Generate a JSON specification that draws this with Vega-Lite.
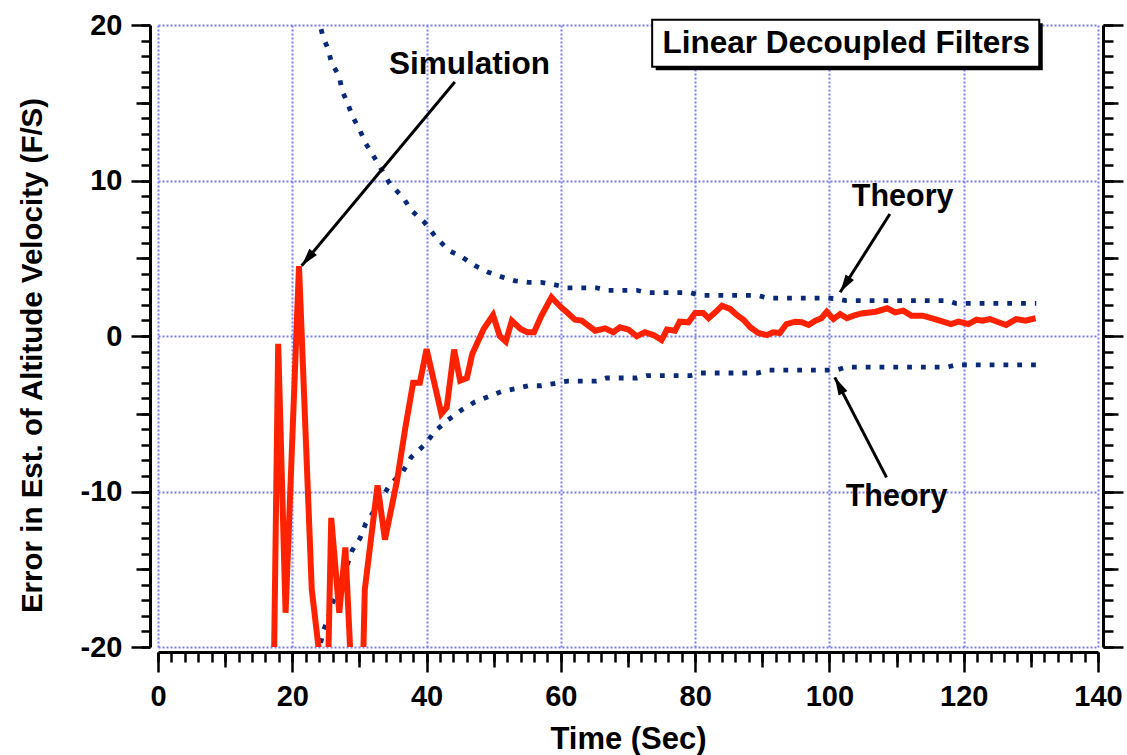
{
  "$schema": "https://vega.github.io/schema/vega-lite/v6.json",
  "width": 940,
  "height": 622,
  "autosize": {"type": "none"},
  "padding": {"left": 158, "top": 25, "right": 29, "bottom": 108},
  "background": "white",
  "config": {
    "view": {"stroke": null},
    "axis": {
      "grid": false,
      "domainColor": "black",
      "tickColor": "black",
      "domainWidth": 3,
      "tickWidth": 2.5,
      "labelFont": "Liberation Sans",
      "labelFontWeight": "bold",
      "labelFontSize": 29,
      "labelColor": "black",
      "titleFont": "Liberation Sans",
      "titleFontWeight": "bold",
      "titleColor": "black",
      "labelFlush": false,
      "labelOverlap": false
    },
    "text": {"font": "Liberation Sans", "fontWeight": "bold", "color": "black"}
  },
  "datasets": {
    "sim": [
      {"t": 17.0, "e": -30}, {"t": 17.9, "e": -0.5}, {"t": 19.0, "e": -17.8}, {"t": 21.0, "e": 4.5},
      {"t": 22.9, "e": -16.3}, {"t": 25.17, "e": -24.7}, {"t": 25.8, "e": -11.7}, {"t": 27.0, "e": -17.8},
      {"t": 27.9, "e": -13.6}, {"t": 29.94, "e": -32.2}, {"t": 30.8, "e": -16.3}, {"t": 32.7, "e": -9.6},
      {"t": 33.8, "e": -13.1}, {"t": 35.6, "e": -9.3}, {"t": 36.8, "e": -6.0}, {"t": 38.0, "e": -3.0},
      {"t": 39.0, "e": -3.0}, {"t": 40.0, "e": -0.84}, {"t": 42.2, "e": -5.0}, {"t": 43.0, "e": -4.6},
      {"t": 44.1, "e": -0.88}, {"t": 45.0, "e": -2.87}, {"t": 46.0, "e": -2.7}, {"t": 46.8, "e": -1.16},
      {"t": 48.5, "e": 0.45}, {"t": 49.9, "e": 1.35}, {"t": 50.9, "e": 0.0}, {"t": 51.8, "e": -0.36},
      {"t": 52.7, "e": 0.98}, {"t": 54.0, "e": 0.45}, {"t": 55.0, "e": 0.24}, {"t": 56.0, "e": 0.24},
      {"t": 57.1, "e": 1.3}, {"t": 58.6, "e": 2.49}, {"t": 59.9, "e": 1.9}, {"t": 60.9, "e": 1.52},
      {"t": 62.1, "e": 1.05}, {"t": 63.1, "e": 0.99}, {"t": 64.1, "e": 0.66}, {"t": 65.1, "e": 0.34},
      {"t": 66.6, "e": 0.49}, {"t": 67.8, "e": 0.24}, {"t": 68.8, "e": 0.56}, {"t": 70.1, "e": 0.41},
      {"t": 71.3, "e": -0.02}, {"t": 72.5, "e": 0.24}, {"t": 73.8, "e": 0.06}, {"t": 75.0, "e": -0.26},
      {"t": 75.8, "e": 0.41}, {"t": 77.0, "e": 0.34}, {"t": 77.7, "e": 0.92}, {"t": 79.0, "e": 0.88},
      {"t": 80.0, "e": 1.48}, {"t": 81.2, "e": 1.48}, {"t": 82.0, "e": 1.14}, {"t": 83.0, "e": 1.52},
      {"t": 84.0, "e": 1.95}, {"t": 85.2, "e": 1.74}, {"t": 86.2, "e": 1.35}, {"t": 87.2, "e": 1.05},
      {"t": 88.2, "e": 0.56}, {"t": 89.4, "e": 0.19}, {"t": 90.7, "e": 0.06}, {"t": 91.6, "e": 0.24},
      {"t": 92.6, "e": 0.19}, {"t": 93.6, "e": 0.77}, {"t": 94.9, "e": 0.92}, {"t": 95.9, "e": 0.88},
      {"t": 96.9, "e": 0.71}, {"t": 97.9, "e": 0.98}, {"t": 98.8, "e": 1.14}, {"t": 99.6, "e": 1.56},
      {"t": 100.6, "e": 1.09}, {"t": 101.6, "e": 1.41}, {"t": 102.6, "e": 1.14}, {"t": 103.6, "e": 1.31},
      {"t": 104.8, "e": 1.45}, {"t": 106.9, "e": 1.56}, {"t": 108.6, "e": 1.78}, {"t": 109.8, "e": 1.52},
      {"t": 111.0, "e": 1.63}, {"t": 112.2, "e": 1.31}, {"t": 113.9, "e": 1.31}, {"t": 115.7, "e": 1.09},
      {"t": 118.1, "e": 0.77}, {"t": 119.2, "e": 0.92}, {"t": 120.7, "e": 0.77}, {"t": 121.9, "e": 1.05},
      {"t": 122.8, "e": 0.98}, {"t": 123.9, "e": 1.09}, {"t": 126.3, "e": 0.71}, {"t": 127.8, "e": 1.09},
      {"t": 129.2, "e": 0.98}, {"t": 130.7, "e": 1.14}
    ],
    "theory": [
      {"b": "upper", "t": 23.8, "e": 20.6}, {"b": "upper", "t": 24.6, "e": 19.2}, {"b": "upper", "t": 25.4, "e": 18.4},
      {"b": "upper", "t": 25.8, "e": 17.6}, {"b": "upper", "t": 27.0, "e": 16.7}, {"b": "upper", "t": 27.4, "e": 15.8},
      {"b": "upper", "t": 28.2, "e": 15.0}, {"b": "upper", "t": 29.0, "e": 14.1}, {"b": "upper", "t": 30.1, "e": 13.2},
      {"b": "upper", "t": 30.9, "e": 12.4}, {"b": "upper", "t": 32.2, "e": 11.5}, {"b": "upper", "t": 33.3, "e": 10.7},
      {"b": "upper", "t": 34.5, "e": 9.8}, {"b": "upper", "t": 36.5, "e": 8.9}, {"b": "upper", "t": 37.7, "e": 8.1},
      {"b": "upper", "t": 39.7, "e": 7.3}, {"b": "upper", "t": 41.3, "e": 6.4}, {"b": "upper", "t": 43.3, "e": 5.5},
      {"b": "upper", "t": 45.2, "e": 5.1}, {"b": "upper", "t": 47.3, "e": 4.5}, {"b": "upper", "t": 49.2, "e": 4.1},
      {"b": "upper", "t": 51.2, "e": 3.8}, {"b": "upper", "t": 53.2, "e": 3.55}, {"b": "upper", "t": 55.2, "e": 3.45},
      {"b": "upper", "t": 57.1, "e": 3.45}, {"b": "upper", "t": 59.0, "e": 3.3}, {"b": "upper", "t": 61.0, "e": 3.1},
      {"b": "upper", "t": 65.3, "e": 3.1}, {"b": "upper", "t": 66.8, "e": 2.94}, {"b": "upper", "t": 71.3, "e": 2.94},
      {"b": "upper", "t": 72.8, "e": 2.79}, {"b": "upper", "t": 79.3, "e": 2.79}, {"b": "upper", "t": 80.8, "e": 2.61},
      {"b": "upper", "t": 89.3, "e": 2.61}, {"b": "upper", "t": 90.8, "e": 2.44}, {"b": "upper", "t": 99.5, "e": 2.44},
      {"b": "upper", "t": 101.0, "e": 2.4}, {"b": "upper", "t": 102.5, "e": 2.27}, {"b": "upper", "t": 117.5, "e": 2.27},
      {"b": "upper", "t": 118.8, "e": 2.1}, {"b": "upper", "t": 130.8, "e": 2.1},
      {"b": "lower", "t": 23.8, "e": -20.6}, {"b": "lower", "t": 24.6, "e": -19.0}, {"b": "lower", "t": 25.4, "e": -18.1},
      {"b": "lower", "t": 25.8, "e": -17.3}, {"b": "lower", "t": 27.0, "e": -16.4}, {"b": "lower", "t": 27.4, "e": -15.6},
      {"b": "lower", "t": 28.2, "e": -14.7}, {"b": "lower", "t": 28.9, "e": -13.8}, {"b": "lower", "t": 30.1, "e": -13.0},
      {"b": "lower", "t": 30.9, "e": -12.1}, {"b": "lower", "t": 32.1, "e": -11.3}, {"b": "lower", "t": 33.3, "e": -10.4},
      {"b": "lower", "t": 34.5, "e": -9.6}, {"b": "lower", "t": 36.5, "e": -8.7}, {"b": "lower", "t": 37.7, "e": -7.8},
      {"b": "lower", "t": 39.7, "e": -7.0}, {"b": "lower", "t": 41.3, "e": -6.1}, {"b": "lower", "t": 43.2, "e": -5.4},
      {"b": "lower", "t": 45.2, "e": -4.76}, {"b": "lower", "t": 47.2, "e": -4.24}, {"b": "lower", "t": 49.2, "e": -3.9},
      {"b": "lower", "t": 51.2, "e": -3.56}, {"b": "lower", "t": 53.2, "e": -3.39}, {"b": "lower", "t": 55.2, "e": -3.2},
      {"b": "lower", "t": 57.1, "e": -3.2}, {"b": "lower", "t": 59.0, "e": -3.06}, {"b": "lower", "t": 61.0, "e": -2.9},
      {"b": "lower", "t": 65.3, "e": -2.9}, {"b": "lower", "t": 66.8, "e": -2.7}, {"b": "lower", "t": 71.3, "e": -2.7},
      {"b": "lower", "t": 72.8, "e": -2.55}, {"b": "lower", "t": 79.3, "e": -2.55}, {"b": "lower", "t": 80.8, "e": -2.38},
      {"b": "lower", "t": 89.3, "e": -2.38}, {"b": "lower", "t": 90.8, "e": -2.2}, {"b": "lower", "t": 101.0, "e": -2.2},
      {"b": "lower", "t": 102.5, "e": -2.0}, {"b": "lower", "t": 117.5, "e": -2.0}, {"b": "lower", "t": 118.8, "e": -1.86},
      {"b": "lower", "t": 130.8, "e": -1.86}
    ],
    "notes": [
      {"label": "Linear Decoupled Filters", "t": 102.5, "e": 18.18},
      {"label": "Simulation", "t": 46.4, "e": 16.85},
      {"label": "Theory", "t": 110.9, "e": 8.38},
      {"label": "Theory", "t": 110.0, "e": -10.91}
    ],
    "box": [{"t": 73.6, "t2": 131.25, "e": 20.33, "e2": 17.32}],
    "arrows": [
      {"name": "sim", "t": 44.2, "e": 16.33, "t2": 21.4, "e2": 4.52},
      {"name": "upper", "t": 109.0, "e": 7.85, "t2": 101.6, "e2": 2.81},
      {"name": "lower", "t": 108.5, "e": -9.09, "t2": 100.8, "e2": -2.66}
    ]
  },
  "resolve": {"axis": {"x": "independent", "y": "independent"}},
  "layer": [
    {
      "data": {"name": "theory"},
      "mark": {"type": "line", "clip": true, "color": "#0a2a78", "strokeWidth": 4.8, "strokeDash": [4.8, 9.0], "strokeCap": "butt"},
      "encoding": {
        "x": {"field": "t", "type": "quantitative", "scale": {"domain": [0, 140], "nice": false, "zero": false},
          "axis": {"orient": "bottom", "values": [0, 20, 40, 60, 80, 100, 120, 140], "grid": true, "gridColor": "#7a7aff", "gridDash": [2, 2], "gridWidth": 2, "domain": false, "ticks": false, "labels": false, "title": null}},
        "y": {"field": "e", "type": "quantitative", "scale": {"domain": [-20, 20], "nice": false, "zero": false},
          "axis": {"orient": "left", "values": [-20, -10, 0, 10, 20], "grid": true, "gridColor": "#7a7aff", "gridDash": [2, 2], "gridWidth": 2, "domain": false, "ticks": false, "labels": false, "title": null}},
        "detail": {"field": "b"}
      }
    },
    {
      "data": {"name": "box"},
      "mark": {"type": "rect", "fill": "black", "xOffset": 3.5, "x2Offset": 3.5, "yOffset": 3.5, "y2Offset": 3.5},
      "encoding": {
        "x": {"field": "t", "type": "quantitative", "scale": {"domain": [0, 140], "nice": false, "zero": false},
          "axis": {"orient": "bottom", "offset": 5, "values": [10, 30, 50, 70, 90, 110, 130], "tickSize": 15, "labels": false, "domain": false, "title": null}},
        "x2": {"field": "t2"},
        "y": {"field": "e", "type": "quantitative", "scale": {"domain": [-20, 20], "nice": false, "zero": false},
          "axis": {"orient": "left", "offset": 8, "values": [-15, -5, 5, 15], "tickSize": 14, "labels": false, "domain": false, "title": null}},
        "y2": {"field": "e2"}
      }
    },
    {
      "data": {"name": "box"},
      "mark": {"type": "rect", "fill": "white", "stroke": "black", "strokeWidth": 2},
      "encoding": {
        "x": {"field": "t", "type": "quantitative", "scale": {"domain": [0, 140], "nice": false, "zero": false},
          "axis": {"orient": "bottom", "offset": 5, "values": [0, 2, 4, 6, 8, 10, 12, 14, 16, 18, 20, 22, 24, 26, 28, 30, 32, 34, 36, 38, 40, 42, 44, 46, 48, 50, 52, 54, 56, 58, 60, 62, 64, 66, 68, 70, 72, 74, 76, 78, 80, 82, 84, 86, 88, 90, 92, 94, 96, 98, 100, 102, 104, 106, 108, 110, 112, 114, 116, 118, 120, 122, 124, 126, 128, 130, 132, 134, 136, 138, 140], "tickSize": 10, "labels": false, "domain": false, "title": null}},
        "x2": {"field": "t2"},
        "y": {"field": "e", "type": "quantitative", "scale": {"domain": [-20, 20], "nice": false, "zero": false},
          "axis": {"orient": "left", "offset": 8, "values": [-20, -19, -18, -17, -16, -15, -14, -13, -12, -11, -10, -9, -8, -7, -6, -5, -4, -3, -2, -1, 0, 1, 2, 3, 4, 5, 6, 7, 8, 9, 10, 11, 12, 13, 14, 15, 16, 17, 18, 19, 20], "tickSize": 9, "labels": false, "domain": false, "title": null}},
        "y2": {"field": "e2"}
      }
    },
    {
      "data": {"name": "sim"},
      "mark": {"type": "line", "clip": true, "color": "#ff2200", "strokeWidth": 6, "strokeJoin": "miter"},
      "encoding": {
        "x": {"field": "t", "type": "quantitative", "scale": {"domain": [0, 140], "nice": false, "zero": false},
          "axis": {"orient": "bottom", "offset": 5, "values": [0, 20, 40, 60, 80, 100, 120, 140], "tickSize": 20, "labelPadding": 10, "labelExpr": "'' + datum.value", "domain": true, "title": "Time (Sec)", "titleFontSize": 31, "titleBaseline": "alphabetic", "titleY": 96}},
        "y": {"field": "e", "type": "quantitative", "scale": {"domain": [-20, 20], "nice": false, "zero": false},
          "axis": {"orient": "left", "offset": 8, "values": [-20, -10, 0, 10, 20], "tickSize": 19, "labelPadding": 9, "labelExpr": "'' + datum.value", "domain": true, "title": "Error in Est. of Altitude Velocity (F/S)", "titleFontSize": 29.5, "titleBaseline": "alphabetic", "titleX": -109, "titleY": 330}}
      }
    },
    {
      "data": {"name": "notes"},
      "transform": [{"filter": "datum.label === 'Linear Decoupled Filters'"}],
      "mark": {"type": "text", "fontSize": 31.5, "align": "center", "baseline": "alphabetic"},
      "encoding": {
        "x": {"field": "t", "type": "quantitative", "scale": {"domain": [0, 140], "nice": false, "zero": false}, "axis": null},
        "y": {"field": "e", "type": "quantitative", "scale": {"domain": [-20, 20], "nice": false, "zero": false},
          "axis": {"orient": "right", "offset": 5, "values": [-20, -10, 0, 10, 20], "tickSize": 20, "labels": false, "domain": true, "title": null}},
        "text": {"field": "label"}
      }
    },
    {
      "data": {"name": "notes"},
      "transform": [{"filter": "datum.label === 'Simulation'"}],
      "mark": {"type": "text", "fontSize": 31.5, "align": "center", "baseline": "alphabetic"},
      "encoding": {
        "x": {"field": "t", "type": "quantitative", "scale": {"domain": [0, 140], "nice": false, "zero": false}, "axis": null},
        "y": {"field": "e", "type": "quantitative", "scale": {"domain": [-20, 20], "nice": false, "zero": false},
          "axis": {"orient": "right", "offset": 5, "values": [-15, -5, 5, 15], "tickSize": 15, "labels": false, "domain": false, "title": null}},
        "text": {"field": "label"}
      }
    },
    {
      "data": {"name": "notes"},
      "transform": [{"filter": "datum.label === 'Theory'"}],
      "mark": {"type": "text", "fontSize": 30.5, "align": "center", "baseline": "alphabetic"},
      "encoding": {
        "x": {"field": "t", "type": "quantitative", "scale": {"domain": [0, 140], "nice": false, "zero": false}, "axis": null},
        "y": {"field": "e", "type": "quantitative", "scale": {"domain": [-20, 20], "nice": false, "zero": false},
          "axis": {"orient": "right", "offset": 5, "values": [-20, -19, -18, -17, -16, -15, -14, -13, -12, -11, -10, -9, -8, -7, -6, -5, -4, -3, -2, -1, 0, 1, 2, 3, 4, 5, 6, 7, 8, 9, 10, 11, 12, 13, 14, 15, 16, 17, 18, 19, 20], "tickSize": 10, "labels": false, "domain": false, "title": null}},
        "text": {"field": "label"}
      }
    },
    {
      "data": {"name": "arrows"},
      "mark": {"type": "rule", "color": "black", "strokeWidth": 3},
      "encoding": {
        "x": {"field": "t", "type": "quantitative", "scale": {"domain": [0, 140], "nice": false, "zero": false}, "axis": null},
        "y": {"field": "e", "type": "quantitative", "scale": {"domain": [-20, 20], "nice": false, "zero": false}, "axis": null},
        "x2": {"field": "t2"},
        "y2": {"field": "e2"}
      }
    },
    {
      "data": {"name": "arrows"},
      "transform": [{"filter": "datum.name === 'sim'"}],
      "mark": {"type": "point", "shape": "M0,0L-0.55,2L0.55,2Z", "size": 320, "angle": 219.8, "filled": true, "color": "black", "opacity": 1},
      "encoding": {
        "x": {"field": "t2", "type": "quantitative", "scale": {"domain": [0, 140], "nice": false, "zero": false}, "axis": null},
        "y": {"field": "e2", "type": "quantitative", "scale": {"domain": [-20, 20], "nice": false, "zero": false}, "axis": null}
      }
    },
    {
      "data": {"name": "arrows"},
      "transform": [{"filter": "datum.name === 'upper'"}],
      "mark": {"type": "point", "shape": "M0,0L-0.55,2L0.55,2Z", "size": 320, "angle": 212.6, "filled": true, "color": "black", "opacity": 1},
      "encoding": {
        "x": {"field": "t2", "type": "quantitative", "scale": {"domain": [0, 140], "nice": false, "zero": false}, "axis": null},
        "y": {"field": "e2", "type": "quantitative", "scale": {"domain": [-20, 20], "nice": false, "zero": false}, "axis": null}
      }
    },
    {
      "data": {"name": "arrows"},
      "transform": [{"filter": "datum.name === 'lower'"}],
      "mark": {"type": "point", "shape": "M0,0L-0.55,2L0.55,2Z", "size": 320, "angle": 332.7, "filled": true, "color": "black", "opacity": 1},
      "encoding": {
        "x": {"field": "t2", "type": "quantitative", "scale": {"domain": [0, 140], "nice": false, "zero": false}, "axis": null},
        "y": {"field": "e2", "type": "quantitative", "scale": {"domain": [-20, 20], "nice": false, "zero": false}, "axis": null}
      }
    }
  ]
}
